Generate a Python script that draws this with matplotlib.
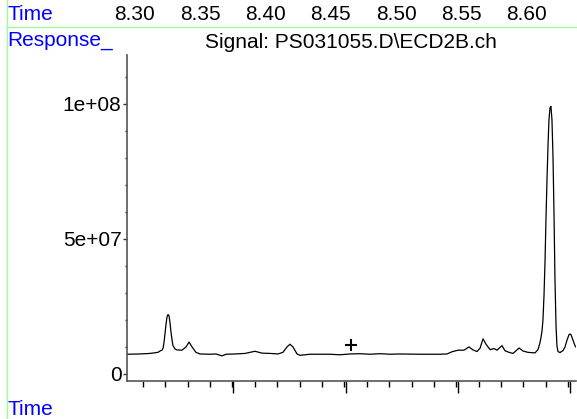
import numpy as np
import matplotlib.pyplot as plt
from matplotlib import transforms

plt.rcParams['font.family'] = ['Liberation Sans', 'DejaVu Sans']

# chromatogram trace (time in min, response)
time = [8.2939, 8.3039, 8.3115, 8.3176, 8.3192, 8.3207, 8.3215, 8.3222, 8.3230,
        8.3238, 8.3245, 8.3253, 8.3261, 8.3268, 8.3276, 8.3284, 8.3291, 8.3307,
        8.3322, 8.3360, 8.3391, 8.3414, 8.3437, 8.3467, 8.3498,
        8.3575, 8.3620, 8.3666, 8.3697, 8.3766, 8.3843, 8.3919, 8.3973, 8.4034,
        8.4095, 8.4133, 8.4164, 8.4187, 8.4210, 8.4241, 8.4264, 8.4340, 8.4493,
        8.4570, 8.4646, 8.4723, 8.4800, 8.4876, 8.4953, 8.5029, 8.5182, 8.5336,
        8.5389, 8.5427, 8.5473, 8.5519, 8.5558, 8.5588, 8.5619, 8.5642, 8.5665,
        8.5688, 8.5719, 8.5749, 8.5772, 8.5810, 8.5833, 8.5864, 8.5895, 8.5918,
        8.5941, 8.5971, 8.6009, 8.6063, 8.6086, 8.6101, 8.6109, 8.6117, 8.6124,
        8.6132, 8.6140, 8.6147, 8.6155, 8.6163, 8.6170, 8.6178, 8.6185, 8.6193,
        8.6201, 8.6209, 8.6216, 8.6224, 8.6231, 8.6239, 8.6255, 8.6262, 8.6277,
        8.6293, 8.6308, 8.6323, 8.6331, 8.6339, 8.6354, 8.6369, 8.6384]
response = [7.3e6, 7.4e6, 7.6e6, 8.0e6, 8.5e6, 8.8e6, 9.5e6, 1.15e7, 1.5e7,
            1.85e7, 2.1e7, 2.2e7, 2.15e7, 1.9e7, 1.55e7, 1.25e7, 1.05e7, 9.2e6,
            8.9e6, 8.8e6, 1.0e7, 1.18e7, 1.0e7, 8.0e6, 7.4e6,
            7.3e6, 7.4e6, 6.7e6, 7.3e6, 7.4e6, 7.6e6, 8.4e6, 7.7e6, 7.6e6,
            7.4e6, 8.0e6, 1.0e7, 1.1e7, 1.0e7, 7.4e6, 6.9e6, 7.3e6, 7.3e6,
            7.1e6, 7.4e6, 7.5e6, 7.3e6, 7.5e6, 7.3e6, 7.4e6, 7.3e6, 7.3e6,
            7.4e6, 8.2e6, 8.8e6, 8.8e6, 1.0e7, 8.9e6, 8.3e6, 9.5e6, 1.3e7,
            1.1e7, 9.0e6, 9.4e6, 8.8e6, 1.05e7, 8.6e6, 8.0e6, 7.6e6, 8.6e6,
            9.6e6, 8.5e6, 8.0e6, 7.8e6, 9.0e6, 1.15e7, 1.35e7, 1.6e7, 2.0e7,
            2.9e7, 4.2e7, 5.7e7, 7.2e7, 8.5e7, 9.4e7, 9.85e7, 9.9e7, 9.4e7,
            8.0e7, 5.8e7, 3.5e7, 1.8e7, 1.05e7, 8.3e6, 7.9e6, 8.2e6, 8.6e6,
            1.0e7, 1.25e7, 1.45e7, 1.48e7, 1.45e7, 1.25e7, 1.05e7, 9.5e6]

cursor_t = [8.4654]
cursor_y = [1.07e7]

top_labels = [8.30, 8.35, 8.40, 8.45, 8.50, 8.55, 8.60]
y_major = [0, 5e7, 1e8]
y_labels = ['0', '5e+07', '1e+08']
x_major = [8.3751, 8.4616, 8.5473, 8.6331]

W, H = 577, 419
fs = 15
fig = plt.figure(figsize=(W / 100, H / 100), dpi=100)
ax = fig.add_axes([127 / W, 1 - 381 / H, 449 / W, (381 - 55) / H])

ax.plot(time, response, color='black', lw=0.9)
ax.plot(cursor_t, cursor_y, marker='+', color='black', ms=8, mew=1.5, ls='none')

ax.set_xlim(8.2939, 8.6377)
ax.set_ylim(-2.6e6, 1.18e8)

for s in ['top', 'right']:
    ax.spines[s].set_visible(False)
for s in ['left', 'bottom']:
    ax.spines[s].set_color('#555555')
    ax.spines[s].set_linewidth(1.2)

ax.set_yticks(y_major)
ax.set_yticklabels(y_labels, fontsize=fs)
ax.set_yticks(np.arange(0, 1.15e8, 1e7), minor=True)
ax.tick_params(axis='y', which='major', length=3, width=1, color='#333333', pad=1)
ax.tick_params(axis='y', which='minor', length=1.5, width=1, color='#333333')

ax.set_xticks(x_major)
ax.set_xticklabels([])
ax.set_xticks(np.arange(8.3061, 8.64, 0.01714), minor=True)
ax.tick_params(axis='x', which='major', length=8.5, width=1, color='black')
ax.tick_params(axis='x', which='minor', length=4.2, width=1, color='black')

# top time labels
trans = transforms.blended_transform_factory(ax.transData, fig.transFigure)
for t in top_labels:
    fig.text(t, 1 - 14 / H, f'{t:.2f}', transform=trans, ha='center', va='center',
             fontsize=fs)

fig.text(7 / W, 1 - 15 / H, 'Time', color='#0000ff', fontsize=fs, va='center')
fig.text(7 / W, 1 - 41 / H, 'Response_', color='#0000ff', fontsize=fs, va='center')
fig.text(7 / W, 1 - 409 / H, 'Time', color='#0000ff', fontsize=fs, va='center')
fig.text(351 / W, 1 - 42 / H, 'Signal: PS031055.D\\ECD2B.ch', ha='center',
         va='center', fontsize=fs)

# green frame lines
fig.add_artist(plt.Line2D([6.5 / W, 6.5 / W], [0, 1], color='#99ff99', lw=1,
                          transform=fig.transFigure))
fig.add_artist(plt.Line2D([6.5 / W, 1], [1 - 27 / H, 1 - 27 / H], color='#99ff99',
                          lw=1, transform=fig.transFigure))

fig.savefig('out.png', dpi=100)
